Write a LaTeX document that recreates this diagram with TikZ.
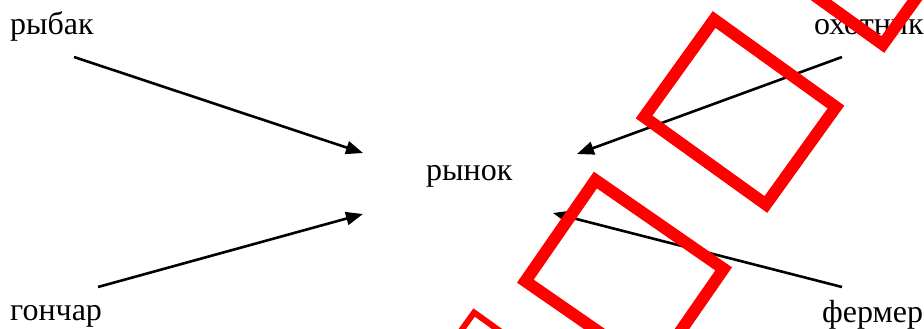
\documentclass[tikz,border=0pt]{standalone}
\usepackage{fontspec}
\setmainfont{Liberation Serif}
\usetikzlibrary{arrows.meta}
\tikzset{
  lbl/.style={anchor=base west, inner sep=0pt, font=\fontsize{32}{37}\selectfont},
  arr/.style={line width=2.6pt, -{Triangle[length=17pt,width=13pt]}},
  redbox/.style={draw=red, line width=12pt, miter limit=10},
}
\begin{document}
\begin{tikzpicture}[x=1pt,y=-1pt]
\useasboundingbox (0,0) rectangle (924,329);
\clip (0,0) rectangle (924,329);
% labels
\node[lbl] (rybak) at (10,35) {рыбак};
\node[lbl] (ohot) at (814,35) {охотник};
\node[lbl] (rynok) at (426,180) {рынок};
\node[lbl] (gonch) at (10,320) {гончар};
\node[lbl] (ferm) at (822,322) {фермер};
% connector end points
\coordinate (rybakS) at (74,57);
\coordinate (rybakT) at (363,153);
\coordinate (gonchS) at (98,287);
\coordinate (gonchT) at (363,214);
\coordinate (ohotS) at (842,57);
\coordinate (ohotT) at (577,154);
\coordinate (fermS) at (842,287);
\coordinate (fermT) at (553,213);
\draw[arr] (rybakS) -- (rybakT);
\draw[arr] (gonchS) -- (gonchT);
\draw[arr] (ohotS) -- (ohotT);
\draw[arr] (fermS) -- (fermT);
% red rectangles
\draw[redbox, shift={(740,112)}, rotate=-35.7] (-75,-60) rectangle (75,60);
\draw[redbox, shift={(624.5,275)}, rotate=-34.7] (-78,-61.5) rectangle (78,61.5);
\draw[redbox, shift={(857,-48)}, rotate=-35.7] (-75,-60) rectangle (75,60);
\draw[redbox, line width=6pt, shift={(500,405)}, rotate=-35.7] (-75,-60) rectangle (75,60);
\end{tikzpicture}
\end{document}
